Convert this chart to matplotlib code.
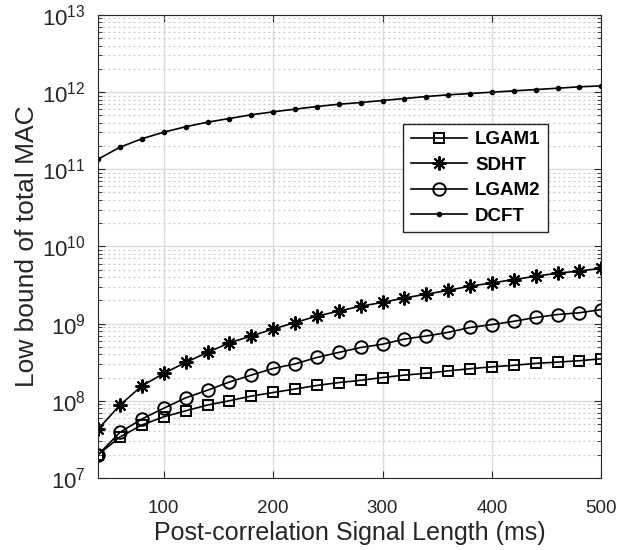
import matplotlib
matplotlib.use('Agg')
import matplotlib.pyplot as plt
from matplotlib.ticker import LogLocator, NullFormatter

plt.rcParams['font.family'] = ['Liberation Sans', 'DejaVu Sans']
plt.rcParams['mathtext.fontset'] = 'custom'
plt.rcParams['mathtext.rm'] = 'Liberation Sans'
plt.rcParams['mathtext.default'] = 'regular'

# signal length (ms)
length_ms = [40, 60, 80, 100, 120, 140, 160, 180, 200, 220, 240, 260,
             280, 300, 320, 340, 360, 380, 400, 420, 440, 460, 480, 500]
x_ticks = [100, 200, 300, 400, 500]

lgam1 = [2.0e7, 3.4e7, 4.85e7, 6.2e7, 7.4e7, 8.8e7, 1.0e8, 1.15e8, 1.28e8, 1.42e8, 1.58e8, 1.72e8,
         1.84e8, 2.0e8, 2.15e8, 2.27e8, 2.44e8, 2.6e8, 2.75e8, 2.88e8, 3.05e8, 3.17e8, 3.3e8, 3.5e8]
sdht = [4.3e7, 8.8e7, 1.56e8, 2.26e8, 3.14e8, 4.23e8, 5.63e8, 6.9e8, 8.5e8, 1.03e9, 1.25e9, 1.45e9,
        1.68e9, 1.88e9, 2.15e9, 2.4e9, 2.7e9, 3.05e9, 3.36e9, 3.72e9, 4.1e9, 4.5e9, 4.8e9, 5.2e9]
lgam2 = [2.0e7, 3.9e7, 5.8e7, 8.0e7, 1.09e8, 1.37e8, 1.75e8, 2.15e8, 2.62e8, 3.0e8, 3.64e8, 4.23e8,
         4.9e8, 5.4e8, 6.3e8, 6.9e8, 7.7e8, 8.9e8, 9.7e8, 1.07e9, 1.2e9, 1.31e9, 1.38e9, 1.52e9]
dcft = [1.35e11, 1.93e11, 2.48e11, 3.02e11, 3.55e11, 4.07e11, 4.54e11, 5.07e11, 5.54e11, 6.0e11, 6.49e11, 6.95e11,
        7.31e11, 7.76e11, 8.24e11, 8.75e11, 9.2e11, 9.57e11, 9.95e11, 1.035e12, 1.077e12, 1.12e12, 1.17e12, 1.2e12]

fig = plt.figure(figsize=(6.25, 5.5), dpi=100)
ax = fig.add_axes([0.157, 0.131, 0.805, 0.842])

ax.plot(length_ms, lgam1, 's-', color='black', linewidth=1.2, markersize=7,
        markerfacecolor='none', markeredgewidth=1.4, label='LGAM1')
ax.plot(length_ms, sdht, marker=(8, 2, 0), linestyle='-', color='black', linewidth=1.2,
        markersize=10, markeredgewidth=1.5, label='SDHT')
ax.plot(length_ms, lgam2, 'o-', color='black', linewidth=1.2, markersize=9,
        markerfacecolor='none', markeredgewidth=1.4, label='LGAM2')
ax.plot(length_ms, dcft, '.-', color='black', linewidth=1.2, markersize=6, label='DCFT')

ax.set_yscale('log')
ax.set_xlim(40, 500)
ax.set_ylim(1e7, 1e13)
ax.set_xticks(x_ticks)
ax.yaxis.set_major_locator(LogLocator(base=10, numticks=10))
ax.yaxis.set_minor_locator(LogLocator(base=10, subs=range(2, 10), numticks=20))
ax.yaxis.set_minor_formatter(NullFormatter())

ax.grid(which='major', color='#dcdcdc', linewidth=1.0, linestyle='-')
ax.grid(which='minor', axis='y', color='#c8c8c8', linewidth=0.9, linestyle=(0, (1.5, 2.5)))
ax.set_axisbelow(True)

ax.tick_params(which='both', direction='in', top=True, right=True, colors='#262626')
ax.tick_params(axis='x', labelsize=13.5, pad=16)
ax.tick_params(axis='y', labelsize=16, pad=9)
ax.tick_params(which='major', length=5)
ax.tick_params(which='minor', length=3)
for s in ax.spines.values():
    s.set_color('#262626')
    s.set_linewidth(0.8)

ax.set_xlabel('Post-correlation Signal Length (ms)', fontsize=18, color='#262626', labelpad=3)
ax.set_ylabel('Low bound of total MAC', fontsize=19, color='#262626', labelpad=2)

leg = ax.legend(loc='upper left', bbox_to_anchor=(0.606, 0.765),
                prop={'weight': 'bold', 'size': 13.5}, fancybox=False, framealpha=1,
                edgecolor='#262626', handlelength=3.0, handletextpad=0.45,
                borderpad=0.4, labelspacing=0.45, borderaxespad=0)
leg.get_frame().set_linewidth(1.0)

plt.savefig('out.png', dpi=100)
